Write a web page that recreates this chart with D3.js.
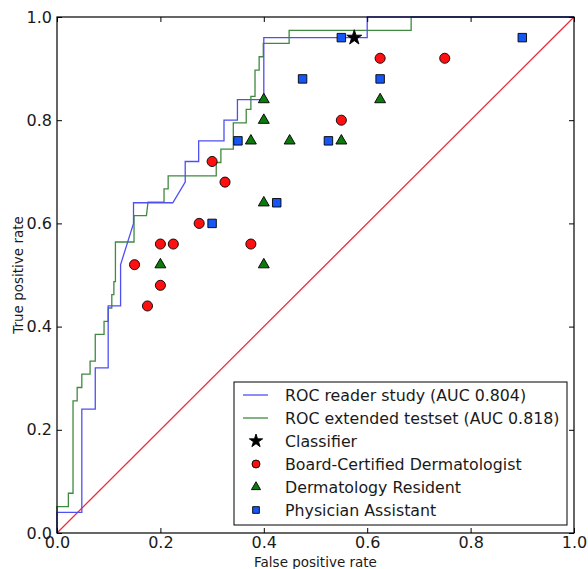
<!DOCTYPE html>
<html>
<head>
<meta charset="utf-8">
<script src="https://cdn.jsdelivr.net/npm/d3@7"></script>
<style>
  html, body { margin: 0; padding: 0; background: #fff; }
  svg { display: block; font-family: "DejaVu Sans", sans-serif; }
</style>
</head>
<body>
<svg id="chart" width="588" height="569"></svg>
<script>
// ROC curve, reader study
const readerFpr = [0, 0, 0.048, 0.048, 0.074, 0.074, 0.099, 0.099, 0.123, 0.123, 0.148, 0.148, 0.224, 0.248, 0.248, 0.274, 0.274, 0.323, 0.323, 0.349, 0.349, 0.4, 0.4, 0.6, 0.6, 1.0];
const readerTpr = [0, 0.04, 0.04, 0.24, 0.24, 0.32, 0.32, 0.44, 0.44, 0.52, 0.60, 0.64, 0.64, 0.68, 0.72, 0.72, 0.76, 0.76, 0.80, 0.80, 0.84, 0.84, 0.96, 0.96, 1.0, 1.0];
// ROC curve, extended test set
const extFpr = [0, 0, 0.022, 0.022, 0.031, 0.031, 0.039, 0.039, 0.048, 0.048, 0.064, 0.064, 0.074, 0.074, 0.091, 0.091, 0.099, 0.099, 0.106, 0.106, 0.110, 0.110, 0.113, 0.113, 0.149, 0.149, 0.173, 0.176, 0.207, 0.207, 0.215, 0.215, 0.308, 0.308, 0.317, 0.317, 0.341, 0.341, 0.366, 0.366, 0.375, 0.375, 0.383, 0.383, 0.391, 0.391, 0.399, 0.399, 0.449, 0.449, 0.685, 0.685, 1.0];
const extTpr = [0, 0.051, 0.051, 0.077, 0.077, 0.256, 0.256, 0.282, 0.282, 0.308, 0.308, 0.333, 0.333, 0.385, 0.385, 0.410, 0.410, 0.436, 0.436, 0.462, 0.462, 0.487, 0.487, 0.564, 0.564, 0.615, 0.615, 0.641, 0.641, 0.667, 0.667, 0.692, 0.692, 0.718, 0.718, 0.744, 0.744, 0.795, 0.795, 0.821, 0.821, 0.846, 0.846, 0.897, 0.897, 0.923, 0.923, 0.949, 0.949, 0.974, 0.974, 1.0, 1.0];
// Classifier operating point
const classifierFpr = [0.575];
const classifierTpr = [0.96];
// Board-certified dermatologists
const dermFpr = [0.15, 0.175, 0.2, 0.2, 0.225, 0.275, 0.3, 0.325, 0.375, 0.55, 0.625, 0.75];
const dermTpr = [0.52, 0.44, 0.48, 0.56, 0.56, 0.60, 0.72, 0.68, 0.56, 0.80, 0.92, 0.92];
// Dermatology residents
const resFpr = [0.2, 0.4, 0.4, 0.375, 0.45, 0.55, 0.4, 0.4, 0.625];
const resTpr = [0.52, 0.84, 0.80, 0.76, 0.76, 0.76, 0.64, 0.52, 0.84];
// Physician assistants
const paFpr = [0.3, 0.35, 0.425, 0.475, 0.525, 0.55, 0.625, 0.9];
const paTpr = [0.60, 0.76, 0.64, 0.88, 0.76, 0.96, 0.88, 0.96];
// Ticks and labels
const tickValues = [0, 0.2, 0.4, 0.6, 0.8, 1.0];
const xLabel = "False positive rate";
const yLabel = "True positive rate";
const legendLabels = ["ROC reader study (AUC 0.804)", "ROC extended testset (AUC 0.818)", "Classifier", "Board-Certified Dermatologist", "Dermatology Resident", "Physician Assistant"];

const W = 588, H = 569;
const L = 57, R = 574, T = 17, B = 533;
const svg = d3.select("#chart");
const x = d3.scaleLinear().domain([0, 1]).range([L, R]);
const y = d3.scaleLinear().domain([0, 1]).range([B, T]);
const textColor = "#1a1a1a";
const cBlue = "#4f4ff2", cGreen = "#3f8a3f", cRed = "#ee2a3a";
const mRed = "#ff1010", mGreen = "#0d7a0d", mBlue = "#1656f5";

const zip = (a, b) => a.map((v, i) => [v, b[i]]);
const line = d3.line().x(d => x(d[0])).y(d => y(d[1]));

// diagonal chance line
svg.append("path").datum([[0, 0], [1, 1]]).attr("d", line)
  .attr("fill", "none").attr("stroke", cRed).attr("stroke-width", 1.3);

// ROC curves
svg.append("path").datum(zip(extFpr, extTpr)).attr("d", line)
  .attr("fill", "none").attr("stroke", cGreen).attr("stroke-width", 1.3);
svg.append("path").datum(zip(readerFpr, readerTpr)).attr("d", line)
  .attr("fill", "none").attr("stroke", cBlue).attr("stroke-width", 1.3);

// markers
function drawMarkers(xs, ys, type, size, fill) {
  svg.append("g").selectAll("path").data(zip(xs, ys)).join("path")
    .attr("transform", d => `translate(${x(d[0])},${y(d[1])})`)
    .attr("d", d3.symbol().type(type).size(size))
    .attr("fill", fill).attr("stroke", "#000").attr("stroke-width", 0.9);
}
drawMarkers(dermFpr, dermTpr, d3.symbolCircle, 80, mRed);
drawMarkers(resFpr, resTpr, d3.symbolTriangle, 52, mGreen);
drawMarkers(paFpr, paTpr, d3.symbolSquare, 72, mBlue);
drawMarkers(classifierFpr, classifierTpr, d3.symbolStar, 70, "#000");

// axes (ticks inward on all sides)
const gx = svg.append("g").attr("transform", `translate(0,${B})`)
  .call(d3.axisBottom(x).tickValues(tickValues).tickFormat(d3.format(".1f")).tickSize(-5).tickSizeOuter(0).tickPadding(4));
const gy = svg.append("g").attr("transform", `translate(${L},0)`)
  .call(d3.axisLeft(y).tickValues(tickValues).tickFormat(d3.format(".1f")).tickSize(-5).tickSizeOuter(0).tickPadding(5));
const gxt = svg.append("g").attr("transform", `translate(0,${T})`)
  .call(d3.axisTop(x).tickValues(tickValues).tickFormat("").tickSize(-5).tickSizeOuter(0));
const gyr = svg.append("g").attr("transform", `translate(${R},0)`)
  .call(d3.axisRight(y).tickValues(tickValues).tickFormat("").tickSize(-5).tickSizeOuter(0));
[gx, gy, gxt, gyr].forEach(g => {
  g.select(".domain").remove();
  g.selectAll("line").attr("stroke", "#000").attr("stroke-width", 1);
  g.selectAll("text").attr("fill", textColor).style("font-size", "16px").style("font-family", "DejaVu Sans, sans-serif");
});

// frame
svg.append("rect").attr("x", L).attr("y", T).attr("width", R - L).attr("height", B - T)
  .attr("fill", "none").attr("stroke", "#000").attr("stroke-width", 1.2);

// axis labels
svg.append("text").attr("x", (L + R) / 2).attr("y", 567).attr("text-anchor", "middle")
  .attr("fill", textColor).style("font-size", "13.5px").text(xLabel);
svg.append("text").attr("transform", `translate(23,${(T + B) / 2}) rotate(-90)`).attr("text-anchor", "middle")
  .attr("fill", textColor).style("font-size", "13.5px").text(yLabel);

// legend
const lg = svg.append("g");
lg.append("rect").attr("x", 234).attr("y", 382).attr("width", 333).attr("height", 143)
  .attr("fill", "#fff").attr("stroke", "#000").attr("stroke-width", 1);
const rowY = i => 395 + i * 23;
legendLabels.forEach((lab, i) => {
  lg.append("text").attr("x", 285).attr("y", rowY(i)).attr("dy", "0.36em")
    .attr("fill", textColor).style("font-size", "15.8px").text(lab);
});
lg.append("line").attr("x1", 243).attr("x2", 268).attr("y1", rowY(0)).attr("y2", rowY(0)).attr("stroke", cBlue).attr("stroke-width", 1.3);
lg.append("line").attr("x1", 243).attr("x2", 268).attr("y1", rowY(1)).attr("y2", rowY(1)).attr("stroke", cGreen).attr("stroke-width", 1.3);
const legSyms = [[d3.symbolStar, 55, "#000"], [d3.symbolCircle, 50, mRed], [d3.symbolTriangle, 36, mGreen], [d3.symbolSquare, 45, mBlue]];
legSyms.forEach((s, j) => {
  lg.append("path").attr("transform", `translate(256,${rowY(j + 2)})`)
    .attr("d", d3.symbol().type(s[0]).size(s[1])).attr("fill", s[2]).attr("stroke", "#000").attr("stroke-width", 0.9);
});
</script>
</body>
</html>
